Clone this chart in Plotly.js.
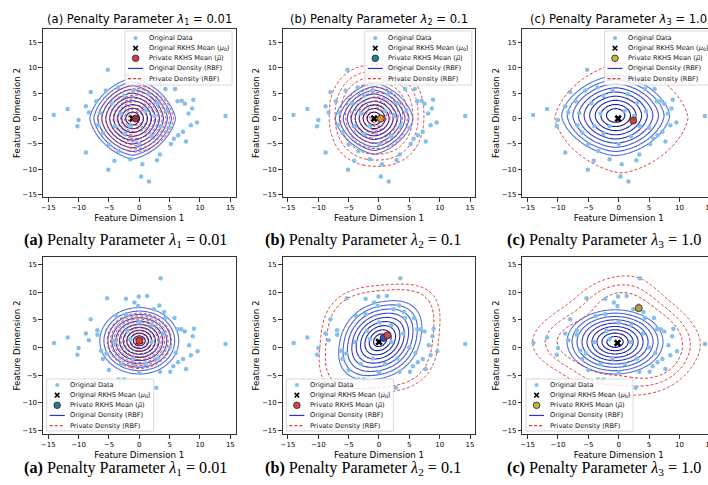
<!DOCTYPE html>
<html><head><meta charset="utf-8">
<script src="https://cdn.plot.ly/plotly-3.0.1.min.js"></script>
<style>html,body{margin:0;padding:0;overflow:hidden;background:#fff;width:708px;height:485px}</style>
</head><body>
<div id="chart" style="width:760px;height:485px"></div>
<script>
// ---------------- data ----------------
const row1X = [-14.1,-11.8,-10.0,-10.2,-8.8,-8.8,-8.0,-8.3,-5.2,-3.5,-7.1,-6.5,-6.8,-6.0,-5.0,-4.1,-5.1,0.3,1.6,0.5,-1.5,2.9,4.3,5.9,6.3,7.0,7.5,8.9,8.7,8.1,8.5,9.5,14.2,7.2,6.4,5.7,5.2,7.7,3.4,-3.4,
  -4.5,-2.5,-1.0,1.5,3.0,4.5,3.5,2.0,0.0,-2.5,-4.0,-3.0,1.0,-1.5,2.5,5.0,-5.5,1.0,3.5,-2.0];
const row1Y = [0.7,1.9,-0.3,-1.5,2.4,-6.7,5.2,1.2,9.6,6.1,3.4,1.1,-1.3,-2.8,-5.1,-8.3,-10.1,-11.4,-12.4,-9.0,-8.0,-8.2,5.8,5.8,3.4,3.5,2.9,3.7,2.0,1.0,-1.3,-0.8,0.5,-2.6,-3.3,-4.0,-5.0,-4.5,-7.1,-6.4,
  3.0,4.5,5.5,4.8,3.0,1.5,-1.5,-3.5,-5.0,-3.0,-1.5,1.0,1.5,-1.5,0.5,-1.8,5.5,7.5,7.0,8.5];
const row2X = [-14.05,-11.8,-10.0,-10.2,-8.8,-8.0,-8.3,-6.9,-6.9,-6.3,-6.0,-5.3,-2.2,-0.1,1.3,3.5,-0.8,-0.2,2.4,3.3,-5.0,-3.4,-2.5,2.8,3.4,5.1,5.6,6.4,7.2,7.7,8.2,8.5,9.6,8.8,9.0,14.2,4.3,5.8,6.3,6.9,7.5,
  -3.8,-2.2,4.1,-5.4,-4.0,-2.0,0.0,2.0,4.0,5.0,3.0,1.0,-1.0,-3.0,0.0,2.0,-1.5,6.0];
const row2Y = [0.8,1.8,-0.1,-1.3,2.5,5.1,1.3,3.1,2.3,-0.6,-2.1,8.9,8.8,9.2,9.3,12.5,8.1,7.5,6.9,7.6,-4.1,-5.8,-5.8,-7.3,-4.4,-4.4,-3.4,-2.7,-2.1,-3.9,0.4,-1.4,-0.7,2.0,3.4,0.6,5.3,5.3,3.3,3.3,2.9,
  5.7,6.0,6.4,-1.1,1.0,3.0,4.5,4.0,2.5,0.0,-2.0,-3.0,-2.0,-3.0,-4.5,1.0,1.5,-1.0];

const panelLetters = ['(a)','(b)','(c)'];
const lambdaSub = ['1','2','3'];
const lambdaVal = ['0.01','0.1','1.0'];

// means per panel (a1,b1,c1,a2,b2,c2)
const mu0X = [-1.1,-0.8,-0.1, 0.0, 0.0,-0.2];
const mu0Y = [ 0.0, 0.0, 0.0, 1.2, 1.0, 0.8];
const muPX = [-0.6, 0.3, 2.4, 0.0, 1.4, 3.3];
const muPY = [ 0.0, 0.0,-0.4, 1.2, 2.2, 7.1];
const muPColor = ['#a83232','#e08a2e','#c8452e','#e23b2a','#d9434e','#b9a23a'];
const legendMuColor = ['#c9404a','#237e9b','#c9b43a','#237e9b','#d9434e','#c9b43a'];
const extraPanel = [4], extraX = [0.75], extraY = [1.7], extraColor = ['#3550c8'];

// density level-set parameters per panel
const blueCx = [-1.1,-0.8,-0.5, 0.0, 0.2,-0.6];
const blueCy = [ 0.0, 0.0, 0.6, 1.2, 1.3, 1.0];
const blueR1 = [ 7.05, 6.4, 8.9, 6.5, 7.8, 7.9];
const blueR2 = [ 7.95, 7.0, 7.9, 6.0, 6.0, 5.8];
const blueRot = [0, 0, 0, 0, 50, 0];
const blueP = [1.5, 1.5, 1.6, 2.0, 2.3, 2.0];
const blueN = [10, 9, 9, 10, 9, 9];
const blueInner = [0.16, 0.18, 0.17, 0.15, 0.16, 0.17];
const blueGamma = [1, 1, 1, 0.85, 1, 1];

const redCx = [-0.6,-0.4, 0.45, 0.0, 0.1, 0];
const redCy = [ 0.0, 0.6, 0.1, 1.2, 1.5, 0];
const redR1 = [ 6.2, 7.8, 10.95, 5.3, 10.6, 0];
const redR2 = [ 6.6, 10.0, 10.8, 5.0, 9.0, 0];
const redRot = [0, 0, 0, 0, 45, 0];
const redP = [1.7, 2.3, 1.55, 2.0, 3.0, 2.0];
const redN = [9, 10, 1, 9, 2, 3];
const redInner = [0.2, 0.15, 1, 0.15, 0.9, 0];
const redGamma = [1, 0.6, 1, 1, 1, 1];
const redKdeBandwidth = [0, 0, 0, 0, 0, 3.2];
const redKdeLevels = [0.25, 0.59, 0.17];

const legendLabels = ['Original Data','Original RKHS Mean (<i>μ</i><sub>0</sub>)','Private RKHS Mean (<i>μ̃</i>)','Original Density (RBF)','Private Density (RBF)'];

// ---------------- geometry ----------------
const W = 760, H = 485;
const colZero = [139.3, 379.0, 618.7];
const xPxPerUnit = 6.07, xRange = [-15.9, 15.9];
const rowTop = [28.6, 256.7], rowBot = [197.3, 434.3];
const yRanges = [[-15.5, 17.7], [-15.7, 16.4]];

const gridX = [], gridY = [];
for (let v = -16; v <= 16.001; v += 0.2) gridX.push(+v.toFixed(2));
for (let v = -16; v <= 18.001; v += 0.2) gridY.push(+v.toFixed(2));

function shapeField(cx, cy, r1, r2, rotDeg, pOut, gamma) {
  const t = rotDeg * Math.PI / 180, c = Math.cos(t), s = Math.sin(t);
  const z = [];
  for (const y of gridY) {
    const row = [];
    for (const x of gridX) {
      const dx = x - cx, dy = y - cy;
      const a = (dx * c + dy * s) / r1, b = (-dx * s + dy * c) / r2;
      const u = a * c - b * s, v = a * s + b * c;
      const w = Math.min(1, Math.sqrt(u * u + v * v));
      const p = 2 + (pOut - 2) * Math.pow(w, 1.3);
      const rho = Math.pow(Math.pow(Math.abs(u), p) + Math.pow(Math.abs(v), p), 1 / p);
      row.push(1 - Math.pow(rho, gamma));
    }
    z.push(row);
  }
  return z;
}
function kdeField(xs, ys, h) {
  const z = []; let mx = 0;
  for (const y of gridY) {
    const row = [];
    for (const x of gridX) {
      let s = 0;
      for (let i = 0; i < xs.length; i++) {
        const dx = x - xs[i], dy = y - ys[i];
        s += Math.exp(-(dx * dx + dy * dy) / (2 * h * h));
      }
      row.push(s); if (s > mx) mx = s;
    }
    z.push(row);
  }
  return z.map(r => r.map(v => v / mx));
}
function levelSpec(n, inner, gamma) {
  if (n <= 1) return {start: 0, end: 0.0001, size: 1};
  const end = 1 - Math.pow(inner, gamma);
  return {start: 0, end: end + 1e-6, size: end / (n - 1)};
}

const traces = [], shapes = [], annotations = [];
const layout = {
  width: W, height: H, margin: {l: 0, r: 0, t: 0, b: 0},
  paper_bgcolor: '#fff', plot_bgcolor: '#fff', showlegend: false,
  font: {family: 'DejaVu Sans', color: '#000'}
};
const P = px => px / W, Q = py => 1 - py / H;
const tickVals = [-15, -10, -5, 0, 5, 10, 15];

for (let k = 0; k < 6; k++) {
  const r = Math.floor(k / 3), c = k % 3;
  const ax = k === 0 ? '' : String(k + 1);
  const left = colZero[c] + xRange[0] * xPxPerUnit, right = colZero[c] + xRange[1] * xPxPerUnit;
  const axCommon = {
    ticks: 'outside', ticklen: 3.5, tickwidth: 0.8, tickcolor: '#000',
    showline: true, mirror: true, linecolor: '#000', linewidth: 0.8,
    showgrid: false, zeroline: false, tickvals: tickVals,
    tickfont: {family: 'DejaVu Sans', size: 7, color: '#000'}, fixedrange: true
  };
  layout['xaxis' + ax] = Object.assign({}, axCommon, {
    domain: [P(left), P(right)], range: xRange, anchor: 'y' + ax,
    title: {text: 'Feature Dimension 1', font: {family: 'DejaVu Sans', size: 8.7, color: '#000'}, standoff: 3}
  });
  layout['yaxis' + ax] = Object.assign({}, axCommon, {
    domain: [Q(rowBot[r]), Q(rowTop[r])], range: yRanges[r], anchor: 'x' + ax,
    title: {text: 'Feature Dimension 2', font: {family: 'DejaVu Sans', size: 8.7, color: '#000'}, standoff: 0}
  });
  const xa = 'x' + ax, ya = 'y' + ax;
  const dX = r === 0 ? row1X : row2X, dY = r === 0 ? row1Y : row2Y;
  traces.push({type: 'scatter', mode: 'markers', x: dX, y: dY, xaxis: xa, yaxis: ya,
    marker: {size: 4.5, color: '#86bfe8', line: {width: 0}}, hoverinfo: 'skip'});
  traces.push({type: 'contour', x: gridX, y: gridY, xaxis: xa, yaxis: ya,
    z: shapeField(blueCx[k], blueCy[k], blueR1[k], blueR2[k], blueRot[k], blueP[k], blueGamma[k]),
    autocontour: false, contours: Object.assign({coloring: 'lines', showlabels: false}, levelSpec(blueN[k], blueInner[k], blueGamma[k])),
    line: {width: 1.1}, zauto: false, zmin: 0, zmax: 0.9,
    colorscale: [[0, '#5573e0'], [0.5, '#2b38bf'], [1, '#0f0f88']], showscale: false, hoverinfo: 'skip'});
  let zr, lv;
  if (redKdeBandwidth[k] > 0) {
    zr = kdeField(row2X, row2Y, redKdeBandwidth[k]);
    lv = {start: redKdeLevels[0], end: redKdeLevels[1] + 1e-6, size: redKdeLevels[2]};
  } else {
    zr = shapeField(redCx[k], redCy[k], redR1[k], redR2[k], redRot[k], redP[k], redGamma[k]);
    lv = levelSpec(redN[k], redInner[k], redGamma[k]);
  }
  traces.push({type: 'contour', x: gridX, y: gridY, xaxis: xa, yaxis: ya, z: zr,
    autocontour: false, contours: Object.assign({coloring: 'lines', showlabels: false}, lv),
    line: {width: 1.0, dash: '3px,2px'}, zauto: false, zmin: 0, zmax: 1,
    colorscale: [[0, '#e03a3a'], [1, '#d42a2a']], showscale: false, hoverinfo: 'skip'});
  traces.push({type: 'scatter', mode: 'markers', x: [mu0X[k]], y: [mu0Y[k]], xaxis: xa, yaxis: ya,
    marker: {symbol: 'x', size: 6.5, color: '#000', line: {width: 0}}, hoverinfo: 'skip'});
  extraPanel.forEach((pi, j) => {
    if (pi === k) traces.push({type: 'scatter', mode: 'markers', x: [extraX[j]], y: [extraY[j]], xaxis: xa, yaxis: ya,
      marker: {size: 7, color: extraColor[j], line: {width: 0.8, color: '#222'}}, hoverinfo: 'skip'});
  });
  traces.push({type: 'scatter', mode: 'markers', x: [muPX[k]], y: [muPY[k]], xaxis: xa, yaxis: ya,
    marker: {size: 7, color: muPColor[k], line: {width: 0.8, color: '#222'}}, hoverinfo: 'skip'});

  // legend key box
  const bw = 107;
  const bh = r === 0 ? 54 : 52;
  const bl = r === 0 ? left + 82.3 : left + 3.9;
  const bt = r === 0 ? 31 : 379;
  const off = r === 0 ? 7 : 6;
  shapes.push({type: 'rect', xref: 'paper', yref: 'paper', x0: P(bl), x1: P(bl + bw), y0: Q(bt + bh), y1: Q(bt),
    line: {color: '#cfcfcf', width: 0.8}, fillcolor: 'rgba(255,255,255,0.82)', layer: 'above'});
  for (let i = 0; i < 5; i++) {
    const cy = bt + off + 10.15 * i, mx = bl + 10.5;
    if (i === 0) {
      const rr = 2.1;
      shapes.push({type: 'circle', xref: 'paper', yref: 'paper', x0: P(mx - rr), x1: P(mx + rr), y0: Q(cy + rr), y1: Q(cy - rr),
        line: {width: 0}, fillcolor: '#86bfe8', layer: 'above'});
    } else if (i === 1) {
      const d = 2.3;
      shapes.push({type: 'line', xref: 'paper', yref: 'paper', x0: P(mx - d), x1: P(mx + d), y0: Q(cy - d), y1: Q(cy + d), line: {color: '#000', width: 1.5}, layer: 'above'});
      shapes.push({type: 'line', xref: 'paper', yref: 'paper', x0: P(mx - d), x1: P(mx + d), y0: Q(cy + d), y1: Q(cy - d), line: {color: '#000', width: 1.5}, layer: 'above'});
    } else if (i === 2) {
      const rr = 3.3;
      shapes.push({type: 'circle', xref: 'paper', yref: 'paper', x0: P(mx - rr), x1: P(mx + rr), y0: Q(cy + rr), y1: Q(cy - rr),
        line: {width: 0.8, color: '#222'}, fillcolor: legendMuColor[k], layer: 'above'});
    } else {
      shapes.push({type: 'line', xref: 'paper', yref: 'paper', x0: P(bl + 3), x1: P(bl + 18), y0: Q(cy), y1: Q(cy),
        line: {color: i === 3 ? '#2a36c0' : '#e03a3a', width: 1.2, dash: i === 3 ? 'solid' : '3px,2px'}, layer: 'above'});
    }
    annotations.push({xref: 'paper', yref: 'paper', x: P(bl + 21.5), y: Q(cy), xanchor: 'left', yanchor: 'middle',
      showarrow: false, text: legendLabels[i], font: {family: 'DejaVu Sans', size: 6.6, color: '#111'}});
  }

  if (r === 0) {
    annotations.push({xref: 'paper', yref: 'paper', x: P(colZero[c]), y: Q(19.5), xanchor: 'center', yanchor: 'middle', showarrow: false,
      text: panelLetters[c] + ' Penalty Parameter <i>λ</i><sub>' + lambdaSub[c] + '</sub> = ' + lambdaVal[c],
      font: {family: 'DejaVu Sans', size: 11.6, color: '#000'}});
  }
  const capX = [125, 362.5, 604][c];
  annotations.push({xref: 'paper', yref: 'paper', x: P(capX), y: Q(r === 0 ? 240 : 468), xanchor: 'center', yanchor: 'middle', showarrow: false,
    text: '<b>' + panelLetters[c] + '</b> Penalty Parameter <i>λ</i><sub>' + lambdaSub[c] + '</sub> = ' + lambdaVal[c],
    font: {family: 'Liberation Serif', size: 16.2, color: '#000'}});
}
layout.shapes = shapes;
layout.annotations = annotations;
Plotly.newPlot('chart', traces, layout, {displayModeBar: false, staticPlot: true});
</script>
</body></html>
